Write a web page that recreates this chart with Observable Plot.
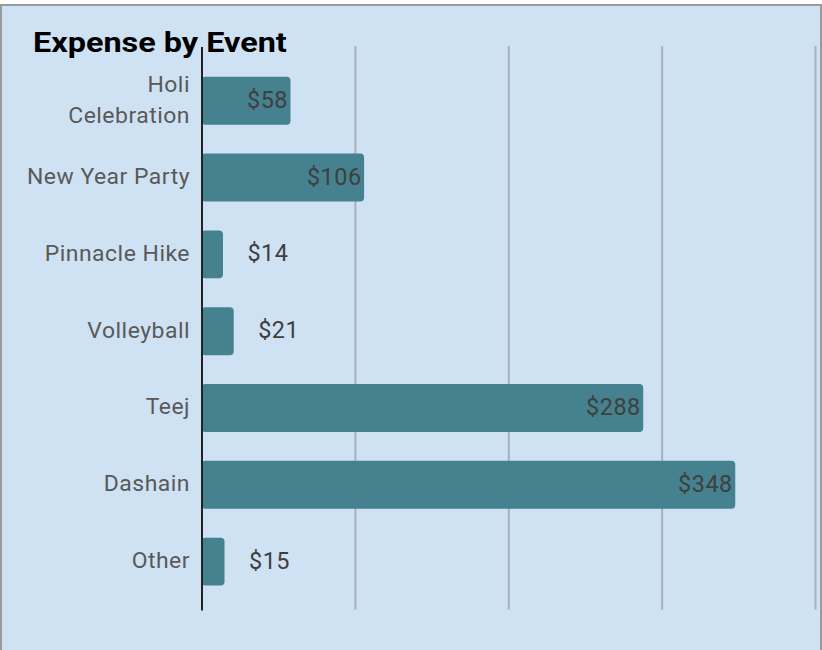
<!DOCTYPE html>
<html>
<head>
<meta charset="utf-8">
<script src="https://cdn.jsdelivr.net/npm/d3@7"></script>
<script src="https://cdn.jsdelivr.net/npm/@observablehq/plot@0.6"></script>
<style>
  html, body { margin: 0; padding: 0; background: #ffffff; }
  #frame {
    position: relative;
    width: 822px; height: 650px;
    box-sizing: border-box;
    background: #cfe2f3;
    border: 2px solid #9a9a9a;
    border-bottom: none;
    margin-top: 4px;
    overflow: hidden;
  }
  #title {
    position: absolute; left: 31px; top: 22px;
    font-family: Roboto, sans-serif; font-weight: 700; font-size: 27px;
    line-height: 30px;
    color: #000; margin: 0; z-index: 2;
    transform: scaleX(1.2); transform-origin: 0 0;
    white-space: nowrap;
  }
  #chart { position: absolute; left: -2px; top: -6px; }
</style>
</head>
<body>
<div id="frame">
  <h1 id="title">Expense by Event</h1>
  <div id="chart"></div>
</div>
<script>
const events = ["Holi Celebration", "New Year Party", "Pinnacle Hike", "Volleyball", "Teej", "Dashain", "Other"];
const eventLabels = ["Holi\nCelebration", "New Year Party", "Pinnacle Hike", "Volleyball", "Teej", "Dashain", "Other"];
const expenses = [58, 106, 14, 21, 288, 348, 15];
const gridTicks = [100, 200, 300, 400];

const data = events.map((e, i) => ({event: e, label: eventLabels[i], value: expenses[i]}));
const labelOf = new Map(data.map(d => [d.event, d.label]));

const chart = Plot.plot({
  width: 822,
  height: 650,
  marginLeft: 202,
  marginRight: 5,
  marginTop: 62,
  marginBottom: 49,
  style: {background: "transparent", fontFamily: "Roboto, sans-serif", letterSpacing: "0.5px"},
  x: {domain: [0, 400], axis: null},
  y: {domain: events, paddingInner: 0.38, paddingOuter: 0.19, axis: null},
  marks: [
    Plot.ruleX(gridTicks, {x: d => d, stroke: "#a7b1bb", strokeWidth: 2, strokeOpacity: 1, insetTop: -16, insetBottom: -10}),
    Plot.barX(data, {y: "event", x: "value", fill: "#45818e", rx: 4}),
    Plot.ruleX([0], {stroke: "#222", strokeWidth: 2, insetTop: -15, insetBottom: -11}),
    Plot.axisY({
      label: null,
      tickSize: 0, tickPadding: 12, fontSize: 23, fill: "#595959",
      lineHeight: 1.35, dy: -4,
      tickFormat: d => labelOf.get(d)
    }),
    Plot.text(data.filter(d => d.value >= 50), {
      y: "event", x: "value", text: d => "$" + d.value,
      textAnchor: "end", dx: -3, dy: -1, fontSize: 23.5, fill: "#3f3f3f"
    }),
    Plot.text(data.filter(d => d.value < 50), {
      y: "event", x: "value", text: d => "$" + d.value,
      textAnchor: "start", dx: 24, dy: -1, fontSize: 23.5, fill: "#3f3f3f"
    })
  ]
});
document.getElementById("chart").appendChild(chart);
</script>
</body>
</html>
